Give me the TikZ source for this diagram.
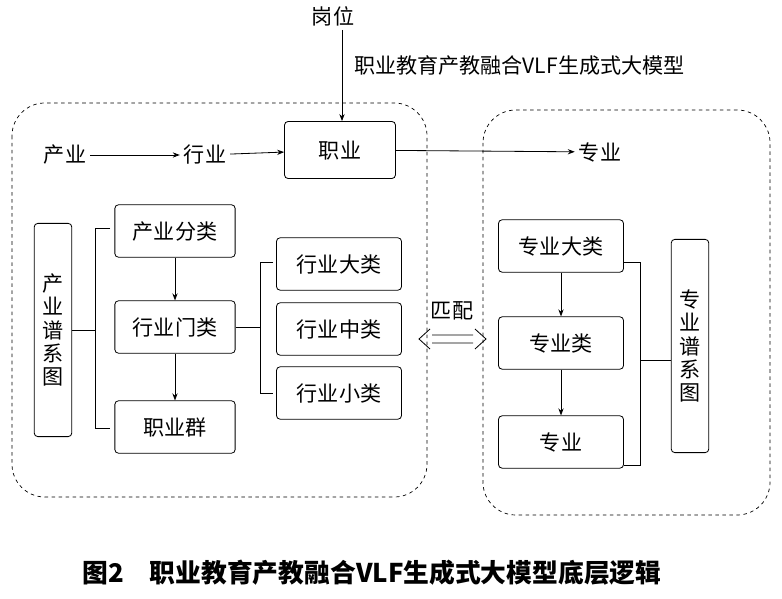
\documentclass[tikz,border=0pt]{standalone}
\usepackage{fontspec}
\setmainfont{Noto Sans CJK SC}
\usetikzlibrary{arrows.meta}
\begin{document}
\begin{tikzpicture}[x=0.03cm,y=-0.03cm,
 box/.style={draw,rounded corners=3pt,line width=0.7pt,font=\fontsize{18}{20}\selectfont},
 txt/.style={font=\fontsize{18}{20}\selectfont},
 arr/.style={-{Stealth[length=6pt]},line width=0.7pt},
 ln/.style={line width=0.7pt},
 dsh/.style={draw,dashed,line width=0.6pt,rounded corners=28pt}]
\useasboundingbox (0,0) rectangle (782,599);
\draw[dsh] (12,103) rectangle (427,497);
\draw[dsh] (483,110) rectangle (770,515);
\node[txt] (gw) at (333,16) {岗位};
\node[txt,anchor=west] (vlf) at (350,65) {职业教育产教融合VLF生成式大模型};
\node[txt] (cy) at (65,155) {产业};
\node[txt] (hy) at (205,155) {行业};
\node[box] (zy) at (340,150) {\makebox[88pt]{\rule[-14pt]{0pt}{42pt}职业}};
\node[txt] (zyy) at (600,152) {专业};
\draw[arr] (gw.south) ++(9,0) coordinate (g1) -- (g1 |- zy.north);
\draw[arr] (cy) -- (hy);
\draw[arr] (hy) -- (zy);
\draw[arr] (zy) -- (zyy);
\node[box,inner sep=6pt] (cyp) at (53,330) {\parbox[c][170pt]{20pt}{\centering 产\\业\\谱\\系\\图}};
\node[box] (a1) at (175,231) {\makebox[96pt]{\rule[-12pt]{0pt}{38pt}产业分类}};
\node[box] (a2) at (175,327) {\makebox[96pt]{\rule[-12pt]{0pt}{38pt}行业门类}};
\node[box] (a3) at (175,427) {\makebox[96pt]{\rule[-12pt]{0pt}{38pt}职业群}};
\draw[arr] (a1) -- (a2); \draw[arr] (a2) -- (a3);
\draw[ln] (cyp.east) -- (95,330) (110,228) -- (95,228) -- (95,428) -- (110,428);
\node[box] (b1) at (339,264) {\makebox[100pt]{\rule[-12pt]{0pt}{38pt}行业大类}};
\node[box] (b2) at (339,329) {\makebox[100pt]{\rule[-12pt]{0pt}{38pt}行业中类}};
\node[box] (b3) at (339,393) {\makebox[100pt]{\rule[-12pt]{0pt}{38pt}行业小类}};
\draw[ln] (a2.east) -- (260,327) (273,262) -- (260,262) -- (260,393) -- (273,393);
\node[txt] (pp) at (452,311) {匹配};
\coordinate (dl) at (419,339); \coordinate (dr) at (486,339);
\draw[line width=0.7pt] (dl) ++(13,-4) -- ++(41,0) (dl) ++(13,4) -- ++(41,0)
  (dl) ++(11,-10) -- (dl) -- ++(11,10) (dr) ++(-11,-10) -- (dr) -- ++(-11,10);
\node[box] (c1) at (561,246) {\makebox[100pt]{\rule[-12pt]{0pt}{38pt}专业大类}};
\node[box] (c2) at (561,343) {\makebox[100pt]{\rule[-12pt]{0pt}{38pt}专业类}};
\node[box] (c3) at (561,442) {\makebox[100pt]{\rule[-12pt]{0pt}{38pt}专业}};
\draw[arr] (c1) -- (c2); \draw[arr] (c2) -- (c3);
\node[box,inner sep=6pt] (zyp) at (690,346) {\parbox[c][170pt]{20pt}{\centering 专\\业\\谱\\系\\图}};
\draw[ln] (c1.east |- 0,262) -- (640,262) -- (640,465) -- (c3.east |- 0,465) (640,360) -- (zyp.west |- 0,360);
\node[font=\fontsize{22}{24}\selectfont\bfseries] (cap) at (372,573) {图2\quad 职业教育产教融合VLF生成式大模型底层逻辑};
\end{tikzpicture}
\end{document}
